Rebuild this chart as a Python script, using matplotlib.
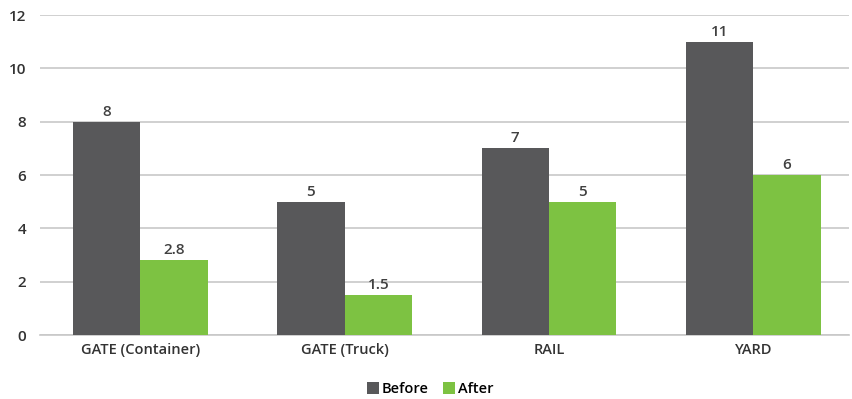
import numpy as np
import matplotlib
matplotlib.use("Agg")
import matplotlib.pyplot as plt

plt.rcParams["font.family"] = ["Open Sans", "DejaVu Sans"]

categories = ["GATE (Container)", "GATE (Truck)", "RAIL", "YARD"]
before = [8, 5, 7, 11]
after = [2.8, 1.5, 5, 6]
before_labels = ["8", "5", "7", "11"]
after_labels = ["2.8", "1.5", "5", "6"]

c_before = "#58585a"
c_after = "#7dc242"

fig = plt.figure(figsize=(8.52, 3.99), dpi=100)
ax = fig.add_axes([0.047, 0.16, 0.95, 0.802])

x = np.arange(len(categories))
w = 0.33
b1 = ax.bar(x - w / 2, before, w, color=c_before, label="Before", zorder=3)
b2 = ax.bar(x + w / 2, after, w, color=c_after, label="After", zorder=3)

for rect, lab in zip(b1, before_labels):
    ax.text(rect.get_x() + rect.get_width() / 2, rect.get_height() + 0.12, lab,
            ha="center", va="bottom", fontsize=11, color="#404040", fontweight="semibold")
for rect, lab in zip(b2, after_labels):
    ax.text(rect.get_x() + rect.get_width() / 2, rect.get_height() + 0.12, lab,
            ha="center", va="bottom", fontsize=11, color="#404040", fontweight="semibold")

ax.set_ylim(0, 12)
ax.set_yticks(range(0, 13, 2))
ax.set_xlim(-0.49, 3.47)
ax.set_xticks(x)
ax.set_xticklabels(categories, fontsize=10.5, color="#333333", fontweight="semibold")
for t in ax.get_yticklabels():
    t.set_fontweight("semibold")
ax.tick_params(axis="y", labelsize=11, colors="#333333", length=0, pad=10)
ax.tick_params(axis="x", length=0, pad=6)
ax.yaxis.grid(True, color="#c8c8c8", linewidth=1.2, zorder=0)
for s in ["top", "right", "left"]:
    ax.spines[s].set_visible(False)
ax.spines["bottom"].set_color("#c8c8c8")
ax.spines["bottom"].set_linewidth(1.2)

leg = fig.legend(handles=[b1, b2], loc="center", bbox_to_anchor=(0.505, 0.025),
                 ncol=2, frameon=False, fontsize=10.5, handlelength=0.8,
                 handleheight=0.8, handletextpad=0.2, columnspacing=1.0,
                 prop={"weight": "semibold", "size": 10.5})

fig.savefig("out.png", dpi=100)
